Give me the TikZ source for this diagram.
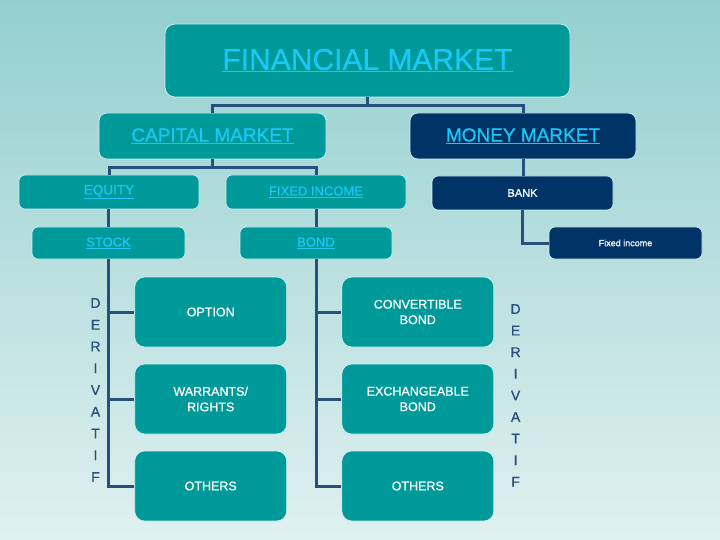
\documentclass[tikz,border=0pt]{standalone}
\usepackage{fontspec}
\setmainfont[FakeBold=0.8]{Liberation Sans}
\definecolor{tealbox}{RGB}{0,153,153}
\definecolor{navybox}{RGB}{0,51,102}
\definecolor{linktext}{RGB}{25,200,245}
\definecolor{wirecol}{RGB}{40,80,125}
\definecolor{bgtop}{RGB}{148,207,207}
\definecolor{bgbottom}{RGB}{224,240,240}
\definecolor{rimcol}{RGB}{205,240,240}

\begin{document}
\begin{tikzpicture}[x=1pt,y=-1pt,
  box/.style={draw=rimcol,line width=0.7pt,fill=tealbox,rounded corners=6pt,
    inner sep=0pt,align=center},
  darkbox/.style={box,fill=navybox,text=white},
  link/.style={text=linktext},
  wire/.style={draw=wirecol,line width=3pt},
  letter/.style={text=wirecol,font=\fontsize{14}{14}\selectfont,inner sep=0pt}]
\shade[top color=bgtop,bottom color=bgbottom] (0,0) rectangle (720,540);
\useasboundingbox (0,0) rectangle (720,540);

% top levels
\node[box,link,rounded corners=10pt,minimum width=405pt,minimum height=73pt,
  font=\fontsize{30}{30}\selectfont] (fm) at (367.5,60.5) {\underline{FINANCIAL MARKET}};
\node[box,link,rounded corners=8pt,minimum width=227pt,minimum height=46pt,
  font=\fontsize{19}{19}\selectfont] (cm) at (212.5,136) {\underline{CAPITAL MARKET}};
\node[darkbox,link,rounded corners=8pt,minimum width=226pt,minimum height=46pt,
  font=\fontsize{19}{19}\selectfont] (mm) at (523,136) {\underline{MONEY MARKET}};

% second and third rows
\node[box,link,minimum width=180pt,minimum height=34pt,
  font=\fontsize{13.5}{13.5}\selectfont] (eq) at (109,192) {\underline{EQUITY}};
\node[box,link,minimum width=180pt,minimum height=34pt,
  font=\fontsize{13}{13}\selectfont] (fi) at (316,192) {\underline{FIXED INCOME}};
\node[darkbox,minimum width=181pt,minimum height=34pt,
  font=\fontsize{11}{11}\selectfont] (bank) at (522.5,193) {BANK};
\node[box,link,minimum width=153pt,minimum height=32pt,
  font=\fontsize{13}{13}\selectfont] (stock) at (108.5,243) {\underline{STOCK}};
\node[box,link,minimum width=152pt,minimum height=32pt,
  font=\fontsize{13}{13}\selectfont] (bond) at (316,243) {\underline{BOND}};
\node[darkbox,minimum width=153pt,minimum height=32pt,
  font=\fontsize{9}{9}\selectfont] (fixinc) at (625.5,243) {Fixed income};

% instruments
\tikzset{item/.style={box,text=white,rounded corners=10pt,minimum width=152pt,
  minimum height=70pt,font=\fontsize{12.5}{15.5}\selectfont}}
\node[item] (option) at (210.7,312) {OPTION};
\node[item] (warrant) at (210.7,399) {WARRANTS/\\RIGHTS};
\node[item] (otherl) at (210.7,486) {OTHERS};
\node[item] (convert) at (417.8,312) {CONVERTIBLE\\BOND};
\node[item] (exchange) at (417.8,399) {EXCHANGEABLE\\BOND};
\node[item] (otherr) at (417.8,486) {OTHERS};

% connectors
\draw[wire] (fm.south) -- ++(0,8.5) -| (cm.north);
\draw[wire] (fm.south) -- ++(0,8.5) -| (mm.north);
\draw[wire] (cm.south) -- ++(0,8) -| (eq.south |- eq.north);
\draw[wire] (cm.south) -- ++(0,8) -| (fi.north);
\draw[wire] (eq.south -| stock.north) -- (stock.north);
\draw[wire] (fi.south) -- (bond.north);
\draw[wire] (mm.south) -- (mm.south |- bank.north);
\draw[wire] (bank.south) |- (fixinc.west);
\foreach \t in {option,warrant,otherl}
  \draw[wire] (stock.south) |- (\t.west);
\foreach \t in {convert,exchange,otherr}
  \draw[wire] (bond.south) |- (\t.west);

% vertical labels
\foreach \ch [count=\i] in {D,E,R,I,V,A,T,I,F}
  \node[letter] (dl\i) at (95.5,{303+21.75*(\i-1)}) {\ch};
\foreach \ch [count=\i] in {D,E,R,I,V,A,T,I,F}
  \node[letter] (dr\i) at (515.6,{309+21.6*(\i-1)}) {\ch};
\end{tikzpicture}
\end{document}
